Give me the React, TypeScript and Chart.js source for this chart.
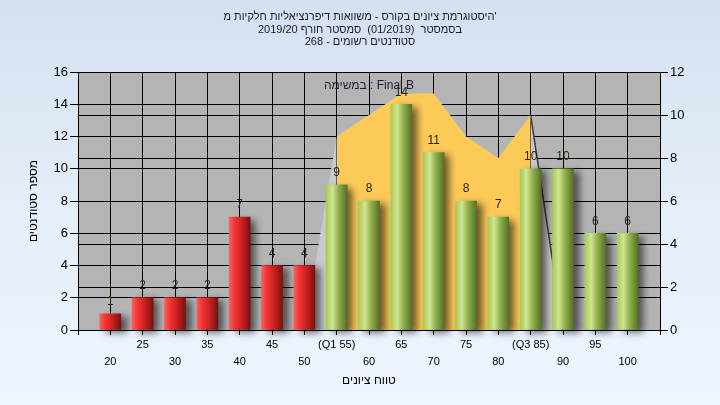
import React, { useEffect, useRef } from 'react';
import { Chart, registerables } from 'chart.js';

Chart.register(...registerables);

// ---------- data ----------
const grades = [20, 25, 30, 35, 40, 45, 50, 55, 60, 65, 70, 75, 80, 85, 90, 95, 100];
const gradeLabels = ['20', '25', '30', '35', '40', '45', '50', '(Q1 55)', '60', '65', '70', '75', '80', '(Q3 85)', '90', '95', '100'];
const students = [1, 2, 2, 2, 7, 4, 4, 9, 8, 14, 11, 8, 7, 10, 10, 6, 6];
const passGrade = 55;

const curveGrades = [50, 55, 60, 65, 70, 75, 80, 85, 90];
const curveValues = [0, 9, 10, 11, 11, 9, 8, 10, 0];
const q1 = 55;
const q3 = 85;

const titleLines = [
  "היסטוגרמת ציונים בקורס - משוואות דיפרנציאליות חלקיות מ'",
  'בסמסטר  (01/2019)  סמסטר חורף 2019/20',
  'סטודנטים רשומים - 268',
];
const yTitle = 'מספר סטודנטים';
const xTitle = 'טווח ציונים';
const seriesNote = 'במשימה : Final B';

const FONT = "'Liberation Sans', Arial, sans-serif";

const plotBg = {
  id: 'plotBg',
  beforeDraw(chart: any) {
    const { ctx, chartArea } = chart;
    if (!chartArea) return;
    ctx.save();
    ctx.fillStyle = '#b4b4b4';
    ctx.fillRect(chartArea.left, chartArea.top, chartArea.right - chartArea.left, chartArea.bottom - chartArea.top);
    ctx.restore();
  },
};

const barShadow = {
  id: 'barShadow',
  beforeDatasetDraw(chart: any, args: any) {
    if (args.meta.type !== 'bar') return;
    const ctx = chart.ctx;
    ctx.save();
    ctx.shadowColor = 'rgba(0,0,0,0.55)';
    ctx.shadowBlur = 7;
    ctx.shadowOffsetX = 6;
    ctx.shadowOffsetY = 3;
  },
  afterDatasetDraw(chart: any, args: any) {
    if (args.meta.type !== 'bar') return;
    chart.ctx.restore();
  },
};

const barLabels = {
  id: 'barLabels',
  afterDatasetsDraw(chart: any) {
    const { ctx, chartArea } = chart;
    ctx.save();
    ctx.font = `12px ${FONT}`;
    ctx.fillStyle = '#2a1a3a';
    ctx.textAlign = 'center';
    ctx.textBaseline = 'middle';
    ctx.fillText(seriesNote, (chartArea.left + chartArea.right) / 2, chartArea.top + 14);
    chart.data.datasets.forEach((ds: any, i: number) => {
      if (ds.type !== 'bar') return;
      const meta = chart.getDatasetMeta(i);
      meta.data.forEach((el: any, j: number) => {
        ctx.fillStyle = '#2b2410';
        ctx.fillText(String(students[j]), el.x, el.y - 12);
      });
    });
    ctx.restore();
  },
};

function barFill(c: any) {
  const chart = c.chart;
  if (c.type !== 'data' || !chart.chartArea) return '#cc3333';
  const g = grades[c.dataIndex];
  const px = chart.scales.x.getPixelForValue(g);
  const half = 10.5;
  const grad = chart.ctx.createLinearGradient(px - half, 0, px + half, 0);
  if (g < passGrade) {
    grad.addColorStop(0, '#f86060');
    grad.addColorStop(0.25, '#f43434');
    grad.addColorStop(0.6, '#cc2020');
    grad.addColorStop(1, '#761212');
  } else {
    grad.addColorStop(0, '#a6c85a');
    grad.addColorStop(0.3, '#cfe590');
    grad.addColorStop(0.6, '#90b04c');
    grad.addColorStop(1, '#566f28');
  }
  return grad;
}

export default function App() {
  const ref = useRef<HTMLCanvasElement>(null);
  useEffect(() => {
    if (!ref.current) return;
    const pts = (lo: number, hi: number) =>
      curveGrades
        .map((g, i) => ({ x: g, y: curveValues[i] }))
        .filter((p) => p.x >= lo && p.x <= hi);
    const chart = new Chart(ref.current, {
      type: 'bar',
      data: {
        datasets: [
          {
            type: 'bar',
            data: grades.map((g, i) => ({ x: g, y: students[i] })),
            backgroundColor: barFill as any,
            barThickness: 21,
            xAxisID: 'x',
            yAxisID: 'y',
            order: 0,
            clip: false as any,
          },
          {
            type: 'line',
            data: pts(curveGrades[0], q1),
            yAxisID: 'y2',
            fill: 'origin',
            backgroundColor: '#c9c9c9',
            borderWidth: 0,
            pointRadius: 0,
            order: 1,
          },
          {
            type: 'line',
            data: pts(q1, q3),
            yAxisID: 'y2',
            fill: 'origin',
            backgroundColor: '#fdca58',
            borderWidth: 0,
            pointRadius: 0,
            order: 1,
          },
          {
            type: 'line',
            data: pts(q3, curveGrades[curveGrades.length - 1]),
            yAxisID: 'y2',
            fill: 'origin',
            backgroundColor: '#c9c9c9',
            borderColor: '#3a3a3a',
            borderWidth: 1.5,
            pointRadius: 0,
            order: 1,
          },
        ] as any,
      },
      options: {
        animation: false,
        responsive: false,
        layout: { padding: 0 },
        plugins: {
          legend: { display: false },
          tooltip: { enabled: false },
          title: {
            display: true,
            text: titleLines,
            color: '#1a1a2a',
            font: { family: FONT, size: 11, lineHeight: 1.14, weight: 'normal' },
            padding: { top: 11, bottom: 23.4 },
          },
        },
        scales: {
          x: {
            type: 'linear',
            min: 15,
            max: 105,
            offset: false,
            ticks: {
              stepSize: 5,
              autoSkip: false,
              maxRotation: 0,
              color: '#000',
              padding: 2,
              font: { family: FONT, size: 11, lineHeight: 1.5 },
              callback: (v: any) => {
                const i = grades.indexOf(Number(v));
                if (i < 0) return '';
                return i % 2 === 1 ? [gradeLabels[i]] : ['', gradeLabels[i]];
              },
            },
            grid: { color: '#000', lineWidth: 1, tickLength: 5, drawTicks: true, offset: false },
            border: { color: '#000' },
            title: {
              display: true,
              text: xTitle,
              color: '#000',
              font: { family: FONT, size: 12 },
              padding: { top: 0, bottom: 16.8 },
            },
            afterFit: (s: any) => {
              s.height = 75;
            },
          },
          y: {
            type: 'linear',
            position: 'left',
            min: 0,
            max: 16,
            ticks: { stepSize: 2, color: '#000', padding: 2, font: { family: FONT, size: 13 } },
            grid: { color: '#000', lineWidth: 1, tickLength: 8 },
            border: { color: '#000' },
            title: {
              display: true,
              text: yTitle,
              color: '#000',
              font: { family: FONT, size: 12 },
              padding: { top: 26, bottom: 0 },
            },
            afterFit: (s: any) => {
              s.width = 78;
            },
          },
          y2: {
            type: 'linear',
            position: 'right',
            min: 0,
            max: 12,
            ticks: { stepSize: 2, color: '#000', padding: 2, font: { family: FONT, size: 13 } },
            grid: { color: '#000', lineWidth: 1, tickLength: 8 },
            border: { color: '#000' },
            afterFit: (s: any) => {
              s.width = 60;
            },
          },
        },
      } as any,
      plugins: [plotBg, barShadow, barLabels],
    });
    return () => chart.destroy();
  }, []);

  return (
    <div
      style={{
        position: 'fixed',
        left: 0,
        top: 0,
        width: 720,
        height: 405,
        background: 'linear-gradient(to bottom, #d4e0f0 0%, #e4eef9 50%, #eef5fd 100%)',
      }}
    >
      <canvas ref={ref} width={720} height={405} style={{ display: 'block' }} />
    </div>
  );
}
